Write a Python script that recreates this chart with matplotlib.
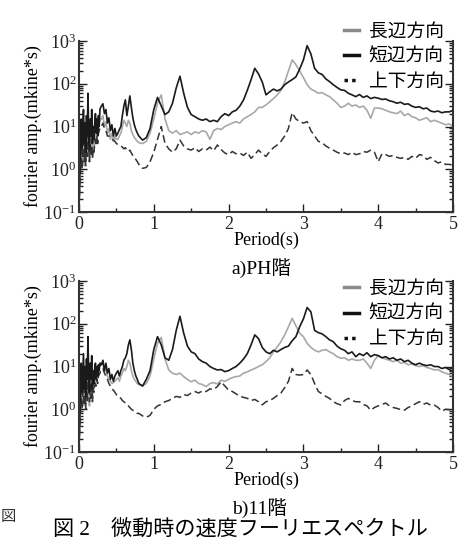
import numpy as np
import matplotlib
matplotlib.use("Agg")
import matplotlib.pyplot as plt
from matplotlib.lines import Line2D
from matplotlib.ticker import LogLocator, MultipleLocator

plt.rcParams['font.family'] = ['Liberation Serif', 'Noto Sans CJK JP']
plt.rcParams['mathtext.fontset'] = 'stix'

# period grid: dense at the start (noisy part), coarser further on
period = np.concatenate([np.round(np.arange(0.0, 0.295, 0.01), 2),
                         np.round(np.arange(0.30, 0.79, 0.02), 2),
                         np.round(np.arange(0.80, 5.001, 0.05), 2)])

labels = ['長辺方向', '短辺方向', '上下方向']

# a) PH floor
ph_long = [0.15, 0.5, 2, 6, 1.5, 3, 8, 1.2, 5, 2,
           10, 2.5, 15, 4, 1.5, 6, 2.5, 8, 2, 5,
           3, 6, 4, 8, 5, 10, 7, 12, 14, 15,
           15, 18, 10, 13, 7, 9, 5, 7, 4.5, 6,
           5, 5, 6, 7, 10, 14, 12, 10, 14, 12,
           8, 6.5, 5.5, 5, 4.5,
           4.2, 4, 4.5, 7, 15, 35, 55, 15, 8, 7,
           8, 6.5, 7, 7.5, 6.5, 7.5, 7, 8, 7.5, 5,
           8, 9, 8.5, 10, 11, 12, 13, 12, 15, 17,
           19, 22, 28, 28, 32, 38, 45, 55, 70, 110,
           200, 360, 280, 200, 140, 95, 75, 68, 60, 62,
           55, 50, 42, 35, 28, 30, 35, 30, 32, 28,
           30, 24, 15.6, 27, 27, 26, 24, 22, 21, 20,
           23, 18, 20, 17, 16, 14, 15, 16, 13, 14,
           13, 12, 11, 11.5, 10]
ph_short = [0.1, 0.8, 5, 15, 3, 8, 25, 4, 12, 2.5,
            18, 6, 60, 8, 3, 15, 6, 25, 4, 10,
            5, 12, 20, 7, 15, 6, 18, 10, 25, 28,
            30, 34, 20, 25, 12, 16, 8, 11, 6, 9,
            6, 7, 8.5, 10, 18, 30, 42, 18, 30, 52,
            28, 16, 11, 8.5, 7,
            6, 4.8, 5.5, 9, 25, 48, 30, 19, 22, 35,
            80, 150, 60, 28, 19, 17, 15, 14, 15, 13,
            14, 13, 17, 20, 18, 22, 24, 30, 42, 70,
            124, 230, 170, 110, 55, 65, 75, 68, 75, 95,
            110, 125, 145, 220, 360, 780, 500, 230, 180, 165,
            130, 112, 95, 82, 72, 70, 60, 55, 50, 56,
            48, 52, 45, 48, 46, 43, 44, 40, 38, 35,
            37, 33, 34, 30, 28, 29, 26, 27, 23, 22,
            23, 21, 22, 22, 24]
ph_vert = [0.12, 0.4, 1.5, 4, 1, 2.5, 6, 1.5, 4, 1.2,
           5, 2, 10, 3, 1.5, 4, 2, 5, 1.8, 3,
           2.5, 4, 5, 3.5, 6, 4, 7, 8, 9, 10,
           10, 12, 9, 8, 6, 6, 5.5, 5, 4.8, 4.5,
           4, 3.8, 3.6, 3.5, 3.3, 3, 3.2, 2.8, 2.6, 2.8,
           2.4, 2.1, 1.9, 1.7, 1.5,
           1.3, 1.05, 1.1, 1.5, 2.5, 5, 10, 4, 3, 2.5,
           3, 4.8, 3.5, 3, 2.8, 3.2, 2.6, 3, 2.8, 3.3,
           2.7, 3.7, 2.9, 2.4, 2.2, 2.6, 2.3, 2.4, 2.1, 2.5,
           1.8, 2.2, 2.8, 2.3, 2, 2.6, 3.2, 3.7, 4.5, 6,
           9, 21, 15, 13, 12, 13, 8, 6, 4.5, 4.2,
           3.5, 3.1, 2.8, 2.5, 2.3, 2.4, 2.2, 2.5, 2.2, 2.3,
           2.6, 2.5, 2.8, 2.5, 1.5, 2.3, 2.2, 2.0, 2.1, 1.9,
           1.8, 1.9, 1.7, 2.0, 1.8, 2.2, 2.1, 1.7, 1.9, 1.6,
           1.4, 1.5, 1.3, 1.3, 1.25]

# b) 11th floor
f11_long = [0.15, 0.5, 2, 5, 1.5, 3, 6, 1.2, 4, 1.5,
            8, 2, 10, 3, 1.2, 5, 2, 6, 1.8, 4,
            3, 5, 3.5, 7, 5, 9, 7, 10, 11, 12,
            12, 11, 9, 8, 6, 5, 4.5, 4, 4.2, 4.5,
            5, 5.5, 4.5, 6, 7, 9, 8, 10, 14, 12,
            8, 6, 5, 4.5, 4,
            3.8, 3.5, 4, 6, 15, 35, 48, 15, 8.3, 7,
            6.5, 7, 5.8, 5, 4.4, 4.8, 4, 3.8, 3.4, 4,
            4.2, 3.9, 4.8, 4.5, 5, 5.5, 5.8, 6, 7, 7.5,
            8.3, 9, 10, 11, 13, 16, 22, 29, 38, 55,
            85, 134, 90, 60, 50, 35, 28, 24, 22, 24,
            25, 22, 20, 17, 15.6, 16, 14, 15, 14, 14,
            15, 12, 9, 14, 18, 16, 15, 14, 13, 14,
            12, 12.5, 11, 11.5, 10.5, 10, 10.5, 9.5, 9, 8.3,
            8.5, 7.5, 7, 6.5, 5.8]
f11_short = [0.1, 0.7, 4, 12, 2.5, 7, 20, 3, 10, 2,
             15, 5, 50, 6, 2.5, 12, 5, 18, 3, 8,
             4, 9, 12, 5, 10, 6, 11, 8, 12, 11,
             11, 14, 8, 12, 7, 9, 5, 6.5, 4.5, 6,
             7, 8, 6, 8, 10, 14, 16, 20, 32, 42,
             25, 12, 8, 6, 5,
             4, 3.5, 5, 8, 25, 50, 32, 16, 14, 25,
             70, 150, 60, 30, 22, 20, 15, 13, 12, 10,
             9, 8.3, 8.5, 7.6, 8, 9, 10, 12, 15, 20,
             32, 55, 45, 28, 22, 20, 24, 22, 25, 28,
             30, 40, 50, 85, 130, 240, 190, 70, 62, 58,
             50, 42, 38, 30, 26, 24, 20, 22, 17, 20,
             18, 21, 17, 19, 18, 16, 17, 15, 16, 14,
             15, 13, 14, 12, 11, 12, 11, 10.5, 11, 10,
             10, 9, 9.5, 8.5, 7.6]
f11_vert = [0.12, 0.4, 1.5, 4, 1, 2, 5, 1.2, 3, 1,
            4, 1.5, 8, 2.5, 1.5, 4, 1.8, 4, 1.5, 3,
            2.5, 3.5, 4, 3.5, 5, 4, 6, 6.5, 7, 8,
            8, 9, 7, 6, 5, 4, 3.5, 3, 2.8, 2.5,
            2.2, 2, 1.9, 1.8, 1.6, 1.5, 1.4, 1.3, 1.2, 1.1,
            1.0, 0.95, 0.9, 0.85, 0.8,
            0.8, 0.7, 0.65, 0.72, 1.0, 1.2, 1.3, 1.5, 1.6, 1.8,
            2.0, 1.9, 2.2, 2.1, 2.4, 2.6, 2.4, 2.7, 2.6, 3.0,
            2.9, 3.4, 4.4, 3.5, 2.8, 2.6, 2.3, 2.0, 1.9, 1.8,
            1.6, 1.7, 1.5, 1.27, 1.5, 1.6, 1.8, 2.1, 2.4, 3.2,
            4.5, 9, 6.5, 6.3, 6.5, 8.3, 6.5, 4, 2.6, 2.3,
            2.0, 1.8, 1.5, 1.35, 1.26, 1.6, 1.8, 1.6, 1.5, 1.5,
            1.3, 1.2, 0.95, 1.1, 1.2, 1.3, 1.4, 1.2, 1.1, 1.05,
            0.98, 0.95, 1.1, 1.2, 1.35, 1.5, 1.3, 1.4, 1.25, 1.26,
            1.1, 0.9, 1.0, 0.98, 0.95]

cjk = ['Noto Sans CJK JP', 'DejaVu Sans']
mixed = ['Liberation Serif', 'Noto Sans CJK JP']


def draw_panel(ax, long_dir, short_dir, vert_dir, legend_top):
    ax.plot(period, long_dir, color='#a8a8a8', lw=1.2)
    ax.plot(period, vert_dir, color='#333333', lw=1.1, ls=(0, (5, 2.5)))
    ax.plot(period, short_dir, color='#1a1a1a', lw=1.2)
    ax.set_yscale('log')
    ax.set_xlim(0, 5)
    ax.set_ylim(0.1, 1000)
    ax.xaxis.set_major_locator(MultipleLocator(1))
    ax.xaxis.set_minor_locator(MultipleLocator(0.5))
    ax.yaxis.set_major_locator(LogLocator(base=10, numticks=10))
    ax.yaxis.set_minor_locator(LogLocator(base=10, subs=np.arange(2, 10), numticks=10))
    ax.tick_params(which='both', direction='in', right=True, top=False,
                   labelsize=13, colors='#222222', width=1)
    ax.tick_params(which='major', length=6, pad=2)
    ax.tick_params(which='minor', length=3)
    ax.tick_params(axis='x', pad=3)
    ax.spines['top'].set_visible(False)
    for s in ['left', 'bottom', 'right']:
        ax.spines[s].set_linewidth(1.5)
        ax.spines[s].set_color('#333333')
    ax.set_ylabel('fourier amp.(mkine*s)', fontsize=13, labelpad=1)
    ax.set_xlabel('Period(s)', fontsize=13)
    ax.xaxis.set_label_coords(0.5, -0.115)
    handles = [Line2D([], [], color='#8a8a8a', lw=2.5),
               Line2D([], [], color='#111111', lw=2.5),
               Line2D([], [], color='#111111', lw=2.5, ls=(0, (1, 1.2)))]
    ax.legend(handles, labels, loc='upper right',
              bbox_to_anchor=(0.952, legend_top), bbox_transform=fig.transFigure,
              frameon=False, prop={'family': cjk, 'size': 13.5},
              handlelength=0.8, handletextpad=0.5, labelspacing=0.22,
              borderpad=0, borderaxespad=0)


fig = plt.figure(figsize=(4.66, 5.44), dpi=100)
ax1 = fig.add_axes([0.1695, 0.6103, 0.8026, 0.3143])
ax2 = fig.add_axes([0.1695, 0.1691, 0.8026, 0.3143])

draw_panel(ax1, ph_long, ph_short, ph_vert, 0.962)
draw_panel(ax2, f11_long, f11_short, f11_vert, 0.489)

fig.text(0.561, 1 - 268 / 544, 'a)PH階', ha='center', va='center', fontsize=14, family=mixed)
fig.text(0.557, 1 - 508 / 544, 'b)11階', ha='center', va='center', fontsize=14, family=mixed)
fig.text(0.515, 1 - 531 / 544, '図 2　微動時の速度フーリエスペクトル', ha='center',
         va='center', fontsize=15.2, family=mixed)
fig.text(0.001, 1 - 517 / 544, '図', ha='left', va='center', fontsize=11,
         family=cjk, color='#333333')

fig.savefig('out.png', dpi=100)
